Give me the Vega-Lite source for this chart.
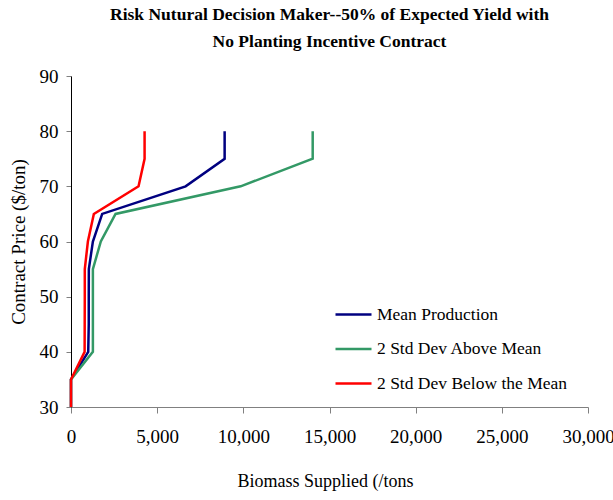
{
  "$schema": "https://vega.github.io/schema/vega-lite/v6.json",
  "autosize": "none",
  "width": 517,
  "height": 331,
  "padding": {"left": 71, "top": 76, "right": 25, "bottom": 93},
  "background": "white",
  "title": {
    "text": ["Risk Nutural Decision Maker--50% of Expected Yield with", "No Planting Incentive Contract"],
    "font": "Liberation Serif",
    "fontSize": 17.5,
    "fontWeight": "bold",
    "color": "black",
    "anchor": "middle",
    "lineHeight": 27,
    "offset": 17
  },
  "config": {
    "view": {"stroke": null},
    "axis": {
      "labelFont": "Liberation Serif",
      "titleFont": "Liberation Serif",
      "labelFontSize": 19,
      "titleFontSize": 19,
      "titleFontWeight": "normal",
      "labelColor": "black",
      "titleColor": "black",
      "grid": false
    }
  },
  "data": {
    "values": [
      {"series": "Mean Production", "price": 30, "tons": 0},
      {"series": "Mean Production", "price": 35, "tons": 0},
      {"series": "Mean Production", "price": 40, "tons": 1000},
      {"series": "Mean Production", "price": 45, "tons": 1030},
      {"series": "Mean Production", "price": 50, "tons": 1030},
      {"series": "Mean Production", "price": 55, "tons": 1035},
      {"series": "Mean Production", "price": 60, "tons": 1270},
      {"series": "Mean Production", "price": 65, "tons": 1810},
      {"series": "Mean Production", "price": 70, "tons": 6650},
      {"series": "Mean Production", "price": 75, "tons": 8915},
      {"series": "Mean Production", "price": 80, "tons": 8915},
      {"series": "2 Std Dev Above Mean", "price": 30, "tons": 0},
      {"series": "2 Std Dev Above Mean", "price": 35, "tons": 0},
      {"series": "2 Std Dev Above Mean", "price": 40, "tons": 1270},
      {"series": "2 Std Dev Above Mean", "price": 45, "tons": 1270},
      {"series": "2 Std Dev Above Mean", "price": 50, "tons": 1270},
      {"series": "2 Std Dev Above Mean", "price": 55, "tons": 1270},
      {"series": "2 Std Dev Above Mean", "price": 60, "tons": 1730},
      {"series": "2 Std Dev Above Mean", "price": 65, "tons": 2585},
      {"series": "2 Std Dev Above Mean", "price": 70, "tons": 9845},
      {"series": "2 Std Dev Above Mean", "price": 75, "tons": 14025},
      {"series": "2 Std Dev Above Mean", "price": 80, "tons": 14025},
      {"series": "2 Std Dev Below the Mean", "price": 30, "tons": 0},
      {"series": "2 Std Dev Below the Mean", "price": 35, "tons": 0},
      {"series": "2 Std Dev Below the Mean", "price": 40, "tons": 790},
      {"series": "2 Std Dev Below the Mean", "price": 45, "tons": 795},
      {"series": "2 Std Dev Below the Mean", "price": 50, "tons": 800},
      {"series": "2 Std Dev Below the Mean", "price": 55, "tons": 800},
      {"series": "2 Std Dev Below the Mean", "price": 60, "tons": 980},
      {"series": "2 Std Dev Below the Mean", "price": 65, "tons": 1325},
      {"series": "2 Std Dev Below the Mean", "price": 70, "tons": 3920},
      {"series": "2 Std Dev Below the Mean", "price": 75, "tons": 4270},
      {"series": "2 Std Dev Below the Mean", "price": 80, "tons": 4270}
    ]
  },
  "mark": {"type": "line", "strokeWidth": 2.5, "clip": false},
  "encoding": {
    "x": {
      "field": "tons",
      "type": "quantitative",
      "scale": {"domain": [0, 30000], "nice": false, "zero": true},
      "axis": {
        "title": "Biomass Supplied (/tons",
        "titleFontSize": 18,
        "titleX": 254,
        "values": [0, 5000, 10000, 15000, 20000, 25000, 30000],
        "format": ",d",
        "domainColor": "#808080",
        "tickColor": "#808080",
        "tickSize": 6,
        "labelPadding": 14,
        "titlePadding": 26,
        "labelFlush": false,
        "labelOverlap": false
      }
    },
    "y": {
      "field": "price",
      "type": "quantitative",
      "scale": {"domain": [30, 90], "nice": false, "zero": false},
      "axis": {
        "title": "Contract Price ($/ton)",
        "values": [30, 40, 50, 60, 70, 80, 90],
        "domainColor": "black",
        "tickColor": "#808080",
        "tickSize": 5,
        "labelPadding": 8,
        "titlePadding": 11,
        "labelFlush": false
      }
    },
    "order": {"field": "price", "type": "quantitative"},
    "color": {
      "field": "series",
      "type": "nominal",
      "scale": {
        "domain": ["Mean Production", "2 Std Dev Above Mean", "2 Std Dev Below the Mean"],
        "range": ["#000080", "#339966", "#FF0000"]
      },
      "legend": {
        "title": null,
        "orient": "none",
        "legendX": 263,
        "legendY": 219,
        "symbolType": "stroke",
        "symbolSize": 1296,
        "symbolStrokeWidth": 2.5,
        "labelFont": "Liberation Serif",
        "labelFontSize": 17.5,
        "labelColor": "black",
        "labelOffset": 4,
        "rowPadding": 6.5,
        "labelLimit": 300
      }
    }
  }
}
